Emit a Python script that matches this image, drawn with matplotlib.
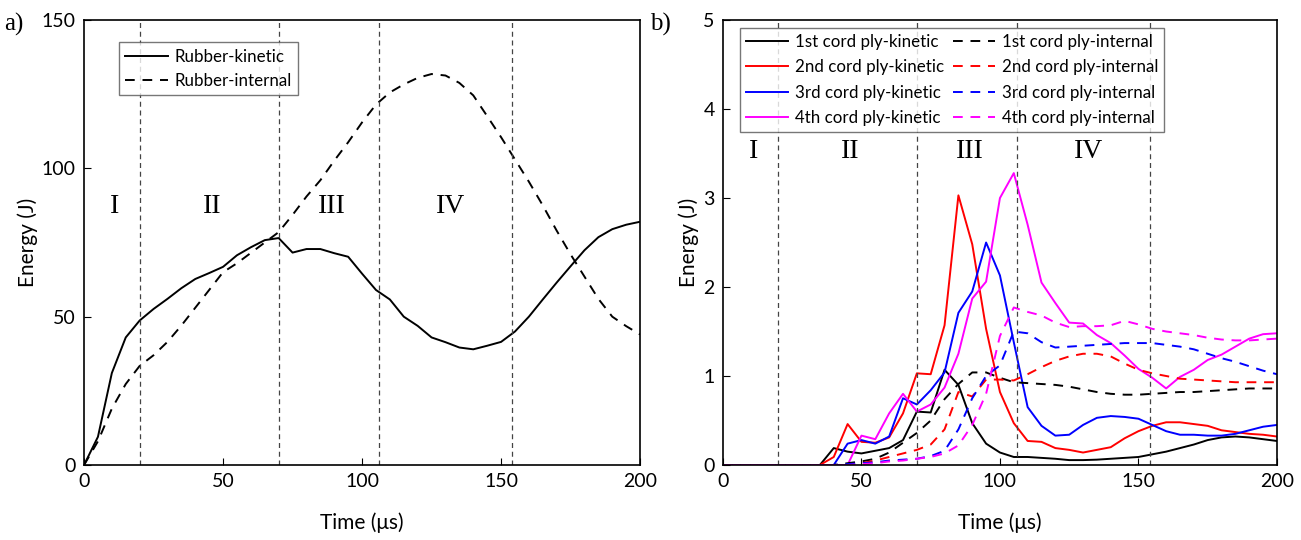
import numpy as np
import matplotlib.pyplot as plt

# ---- panel a) rubber ----
t_a = [0, 5, 10, 15, 20, 25, 30, 35, 40, 45, 50, 55, 60, 65, 70, 75, 80, 85, 90, 95,
       100, 105, 110, 115, 120, 125, 130, 135, 140, 145, 150, 155, 160, 165, 170, 175,
       180, 185, 190, 195, 200]
rubber_kin = [0, 9.5, 31, 43, 48.7, 52.6, 56, 59.6, 62.7, 64.7, 66.8, 70.7, 73.4, 75.8, 76.5,
              71.6, 72.8, 72.8, 71.4, 70.2, 64.5, 59, 55.8, 50, 46.9, 43, 41.4, 39.6, 39,
              40.2, 41.5, 45, 50, 55.8, 61.5, 67, 72.4, 76.8, 79.5, 81, 82]
rubber_int = [0, 8, 19, 27.3, 33.4, 37, 41.5, 47, 53, 59, 65, 68, 71.5, 75, 78.5,
              84.3, 90.5, 96, 102.6, 108.8, 115.5, 121.5, 125.6, 128.3, 130.5, 131.8, 131.3,
              128.8, 124.6, 117.6, 110.5, 103, 95.5, 87.5, 79, 71, 63.5, 56, 50, 46.8, 44]

# ---- panel b) cord plies ----
t_b = [0, 35, 40, 45, 50, 55, 60, 65, 70, 75, 80, 85, 90, 95, 100, 105, 110, 115, 120,
       125, 130, 135, 140, 145, 150, 155, 160, 165, 170, 175, 180, 185, 190, 195, 200]
ply1_kin = [0, 0, 0.19, 0.15, 0.13, 0.16, 0.19, 0.28, 0.6, 0.59, 1.07, 0.9, 0.47, 0.24,
            0.14, 0.09, 0.09, 0.08, 0.07, 0.055, 0.055, 0.06, 0.07, 0.08, 0.09, 0.12,
            0.15, 0.19, 0.23, 0.28, 0.31, 0.32, 0.31, 0.29, 0.27]
ply2_kin = [0, 0, 0.09, 0.46, 0.26, 0.25, 0.31, 0.58, 1.03, 1.02, 1.57, 3.03, 2.48, 1.53,
            0.82, 0.47, 0.27, 0.26, 0.19, 0.17, 0.14, 0.17, 0.2, 0.3, 0.38, 0.44, 0.48,
            0.48, 0.46, 0.44, 0.39, 0.37, 0.35, 0.34, 0.32]
ply3_kin = [0, 0, 0, 0.24, 0.28, 0.24, 0.32, 0.75, 0.68, 0.84, 1.04, 1.71, 1.95, 2.5,
            2.13, 1.38, 0.65, 0.44, 0.33, 0.34, 0.45, 0.53, 0.55, 0.54, 0.52, 0.45, 0.38,
            0.34, 0.34, 0.33, 0.33, 0.35, 0.39, 0.43, 0.45]
ply4_kin = [0, 0, 0, 0, 0.33, 0.29, 0.58, 0.8, 0.6, 0.68, 0.87, 1.25, 1.87, 2.06, 3.0,
            3.28, 2.7, 2.05, 1.82, 1.6, 1.59, 1.46, 1.37, 1.23, 1.08, 0.98, 0.86, 0.99,
            1.07, 1.18, 1.24, 1.33, 1.42, 1.47, 1.48]
ply1_int = [0, 0, 0, 0.02, 0.04, 0.07, 0.14, 0.25, 0.36, 0.5, 0.74, 0.91, 1.04, 1.04,
            0.98, 0.93, 0.92, 0.91, 0.9, 0.88, 0.85, 0.82, 0.8, 0.79, 0.79, 0.8, 0.81,
            0.82, 0.82, 0.83, 0.84, 0.85, 0.86, 0.86, 0.86]
ply2_int = [0, 0, 0, 0, 0.02, 0.05, 0.09, 0.13, 0.17, 0.23, 0.4, 0.82, 0.77, 0.96, 0.96,
            0.95, 1.02, 1.1, 1.17, 1.22, 1.25, 1.25, 1.22, 1.14, 1.07, 1.03, 1.0, 0.97,
            0.96, 0.95, 0.94, 0.93, 0.93, 0.93, 0.93]
ply3_int = [0, 0, 0, 0.01, 0.02, 0.03, 0.05, 0.06, 0.07, 0.1, 0.16, 0.4, 0.75, 1.0, 1.12,
            1.5, 1.48, 1.38, 1.32, 1.33, 1.34, 1.35, 1.36, 1.37, 1.37, 1.37, 1.35, 1.33,
            1.3, 1.25, 1.2, 1.16, 1.11, 1.06, 1.02]
ply4_int = [0, 0, 0, 0, 0.01, 0.02, 0.04, 0.05, 0.07, 0.09, 0.13, 0.22, 0.45, 0.8, 1.45,
            1.77, 1.72, 1.68, 1.6, 1.55, 1.56, 1.56, 1.57, 1.62, 1.58, 1.53, 1.5, 1.48,
            1.46, 1.43, 1.41, 1.4, 1.4, 1.41, 1.42]

stage_lines = [20, 70, 106, 154]
stage_labels = ["I", "II", "III", "IV"]
stage_x = [11, 46, 89, 132]

plt.rcParams['font.family'] = ['Lato', 'DejaVu Sans']
serif = 'Liberation Serif'

fig = plt.figure(figsize=(13.01, 5.4), dpi=100)
axa = fig.add_axes([0.0646, 0.1389, 0.4274, 0.824])
axb = fig.add_axes([0.5557, 0.1389, 0.4258, 0.824])

def style(ax, ymax, yticks):
    ax.set_xlim(0, 200)
    ax.set_ylim(0, ymax)
    ax.set_xticks([0, 50, 100, 150, 200])
    ax.set_yticks(yticks)
    ax.tick_params(direction='in', length=5, labelsize=14, pad=6)
    ax.set_xlabel("Time (\u03bcs)", fontsize=15, labelpad=16)
    ax.set_ylabel("Energy (J)", fontsize=15, labelpad=3)
    for s in ax.spines.values():
        s.set_linewidth(1.2)
    for x in stage_lines:
        ax.axvline(x, color='#444444', ls=(0, (4, 3)), lw=0.9)

# panel a
axa.plot(t_a, rubber_kin, color='black', lw=1.4, label='Rubber-kinetic')
axa.plot(t_a, rubber_int, color='black', lw=1.4, ls=(0, (5, 4)), label='Rubber-internal')
style(axa, 150, [0, 50, 100, 150])
for lab, x in zip(stage_labels, stage_x):
    axa.text(x, 87, lab, fontsize=20, family=serif, ha='center', va='center')
axa.legend(loc='upper left', bbox_to_anchor=(0.062, 0.95), fontsize=12.2, frameon=True,
           fancybox=False, edgecolor='#555555', handlelength=2.5, borderpad=0.4,
           labelspacing=0.45, handletextpad=0.4, borderaxespad=0)
fig.text(0.003, 0.955, "a)", fontsize=18, family=serif, va='center')

# panel b
kin = [ply1_kin, ply2_kin, ply3_kin, ply4_kin]
intl = [ply1_int, ply2_int, ply3_int, ply4_int]
colors = ['black', 'red', 'blue', 'magenta']
names = ['1st', '2nd', '3rd', '4th']
for k, c, n in zip(kin, colors, names):
    axb.plot(t_b, k, color=c, lw=1.4, label=n + ' cord ply-kinetic')
for d, c, n in zip(intl, colors, names):
    axb.plot(t_b, d, color=c, lw=1.4, ls=(0, (5, 4)), label=n + ' cord ply-internal')
style(axb, 5, [0, 1, 2, 3, 4, 5])
for lab, x in zip(stage_labels, stage_x):
    axb.text(x, 3.52, lab, fontsize=20, family=serif, ha='center', va='center')
axb.legend(loc='upper left', bbox_to_anchor=(0.031, 0.982), ncol=2, fontsize=12.2,
           frameon=True, fancybox=False, edgecolor='#555555', handlelength=2.5,
           borderpad=0.35, labelspacing=0.55, handletextpad=0.4, columnspacing=0.5,
           borderaxespad=0)
fig.text(0.500, 0.955, "b)", fontsize=18, family=serif, va='center')

fig.savefig('out.png', dpi=100)
